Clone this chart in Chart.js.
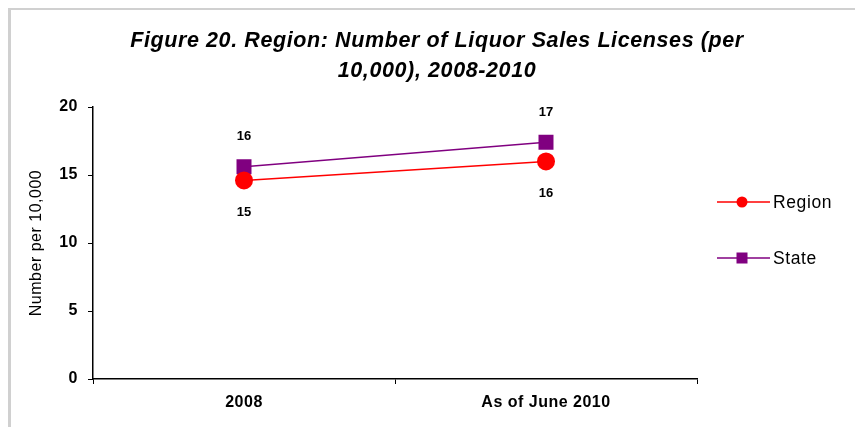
<!DOCTYPE html>
<html>
<head>
<meta charset="utf-8">
<script src="https://cdn.jsdelivr.net/npm/chart.js@4/dist/chart.umd.min.js"></script>
<style>
  html, body { margin: 0; padding: 0; background: #fff; }
  #wrap { position: relative; width: 855px; height: 427px; overflow: hidden; }
  #frame { position: absolute; left: 8px; top: 8px; width: 900px; height: 500px;
           border-left: 3px solid #d0d0d0; border-top: 2px solid #d0d0d0; }
  canvas { position: absolute; left: 0; top: 0; }
</style>
</head>
<body>
<div id="wrap">
  <div id="frame"></div>
  <canvas id="chart" width="855" height="427"></canvas>
</div>
<script>
// Liquor sales licenses per 10,000 residents
const categories = ['2008', 'As of June 2010'];
const regionValues = [14.6, 16.0];
const stateValues = [15.6, 17.4];
const yTicks = [0, 5, 10, 15, 20];
const titleLines = ['Figure 20. Region: Number of Liquor Sales Licenses (per', '10,000), 2008-2010'];
const yAxisTitle = 'Number per 10,000';

const FONT = "'Liberation Sans', Arial, sans-serif";

// Slightly open letter spacing for axis text (the canvas state resets on resize)
const spacing = {
  id: 'spacing',
  beforeLayout(chart) { chart.ctx.letterSpacing = '0.5px'; },
  beforeDraw(chart) { chart.ctx.letterSpacing = '0.5px'; }
};

// Title, value labels and the legend on the right
const decorations = {
  id: 'decorations',
  afterDraw(chart) {
    const ctx = chart.ctx;
    ctx.save();
    ctx.fillStyle = '#000';
    ctx.textAlign = 'center';
    ctx.textBaseline = 'middle';

    // title
    ctx.letterSpacing = '0.6px';
    ctx.font = "italic bold 21.5px " + FONT;
    ctx.fillText(titleLines[0], 437, 41);
    ctx.fillText(titleLines[1], 437, 71);

    // value labels: State above its marks, Region below
    ctx.letterSpacing = '0px';
    ctx.font = "bold 13px " + FONT;
    chart.data.datasets.forEach((ds, i) => {
      const meta = chart.getDatasetMeta(i);
      meta.data.forEach((pt, j) => {
        const label = String(Math.round(ds.data[j]));
        const dy = ds.labelSide === 'above' ? -30 : 32;
        ctx.fillText(label, pt.x, pt.y + dy);
      });
    });

    // legend
    const legendY = [202, 258];
    chart.data.datasets.forEach((ds, i) => {
      const y = legendY[i];
      ctx.strokeStyle = ds.borderColor;
      ctx.lineWidth = 1.5;
      ctx.beginPath();
      ctx.moveTo(717, y);
      ctx.lineTo(770, y);
      ctx.stroke();
      ctx.fillStyle = ds.backgroundColor;
      if (ds.pointStyle === 'circle') {
        ctx.beginPath();
        ctx.arc(742, y, 5.5, 0, Math.PI * 2);
        ctx.fill();
      } else {
        ctx.fillRect(742 - 5.5, y - 5.5, 11, 11);
      }
      ctx.fillStyle = '#000';
      ctx.textAlign = 'left';
      ctx.letterSpacing = '0.6px';
      ctx.font = "17.5px " + FONT;
      ctx.fillText(ds.label, 773, y + 1);
    });
    ctx.restore();
  }
};

new Chart(document.getElementById('chart'), {
  type: 'line',
  data: {
    labels: categories,
    datasets: [
      {
        label: 'Region',
        data: regionValues,
        borderColor: '#ff0000',
        backgroundColor: '#ff0000',
        borderWidth: 1.5,
        pointStyle: 'circle',
        pointRadius: 9,
        pointHoverRadius: 9,
        pointBorderWidth: 0,
        labelSide: 'below',
        order: 1
      },
      {
        label: 'State',
        data: stateValues,
        borderColor: '#800080',
        backgroundColor: '#800080',
        borderWidth: 1.5,
        pointStyle: 'rect',
        pointRadius: 10.6,
        pointHoverRadius: 10.6,
        pointBorderWidth: 0,
        labelSide: 'above',
        order: 2
      }
    ]
  },
  options: {
    responsive: false,
    animation: false,
    devicePixelRatio: 1,
    layout: { padding: { top: 107, right: 158, left: 0, bottom: 0 } },
    plugins: {
      legend: { display: false },
      title: { display: false },
      tooltip: { enabled: false }
    },
    scales: {
      x: {
        type: 'category',
        offset: true,
        grid: { offset: true, drawOnChartArea: false, drawTicks: true, tickLength: 5, color: '#000', lineWidth: 1 },
        border: { display: true, color: '#000', width: 1.5 },
        ticks: { color: '#000', font: { family: FONT, size: 16, weight: 'bold' }, padding: 9, maxRotation: 0 },
        afterFit(scale) { scale.height = 48; }
      },
      y: {
        min: 0,
        max: 20,
        afterBuildTicks(scale) { scale.ticks = yTicks.map(v => ({ value: v })); },
        grid: { drawOnChartArea: false, drawTicks: true, tickLength: 5, color: '#000', lineWidth: 1 },
        border: { display: true, color: '#000', width: 1.5 },
        ticks: { color: '#000', font: { family: FONT, size: 16, weight: 'bold' }, padding: 10 },
        title: { display: true, text: yAxisTitle, color: '#000', font: { family: FONT, size: 16 }, padding: { top: 27, bottom: 0 } },
        afterFit(scale) { scale.width = 93; }
      }
    }
  },
  plugins: [spacing, decorations]
});
</script>
</body>
</html>
